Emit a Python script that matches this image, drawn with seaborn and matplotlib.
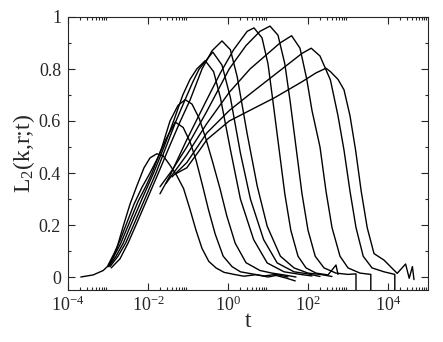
import numpy as np
import pandas as pd
import matplotlib
matplotlib.use('Agg')
import matplotlib.pyplot as plt
import matplotlib.ticker as mticker
import seaborn as sns

# curves: log10(t) and L2 values
c1_lt = [-3.68, -3.37, -3.12, -2.95, -2.80, -2.61, -2.45, -2.28, -2.10, -1.95, -1.78, -1.62, -1.45, -1.28, -1.11, -0.95, -0.80, -0.65, -0.48, -0.30, -0.10, 0.15, 0.4, 0.7, 1.0, 1.2, 1.45, 1.68]
c1_L = [0.0, 0.008, 0.025, 0.05, 0.10, 0.20, 0.28, 0.35, 0.42, 0.458, 0.474, 0.466, 0.43, 0.39, 0.34, 0.26, 0.18, 0.11, 0.06, 0.035, 0.018, 0.01, 0.003, 0.009, 0.0, 0.006, -0.004, -0.015]

c2_lt = [-3.0, -2.85, -2.70, -2.55, -2.35, -2.15, -1.95, -1.75, -1.55, -1.32, -1.12, -0.95, -0.80, -0.65, -0.49, -0.32, -0.12, 0.1, 0.31, 0.6, 0.9, 1.2, 1.5]
c2_L = [0.045, 0.09, 0.14, 0.20, 0.28, 0.345, 0.40, 0.46, 0.53, 0.596, 0.575, 0.52, 0.45, 0.36, 0.26, 0.165, 0.08, 0.04, 0.02, 0.012, 0.004, 0.01, 0.0]

c3_lt = [-3.0, -2.85, -2.68, -2.49, -2.25, -2.05, -1.90, -1.65, -1.45, -1.25, -1.07, -0.90, -0.72, -0.55, -0.38, -0.20, -0.03, 0.18, 0.45, 0.8, 1.1, 1.4, 1.7]
c3_L = [0.04, 0.08, 0.13, 0.20, 0.29, 0.35, 0.40, 0.50, 0.60, 0.66, 0.682, 0.665, 0.61, 0.53, 0.44, 0.34, 0.235, 0.13, 0.055, 0.025, 0.015, 0.008, 0.0]

c4_lt = [-2.98, -2.80, -2.62, -2.43, -2.15, -1.86, -1.60, -1.36, -1.13, -0.95, -0.78, -0.57, -0.36, -0.19, 0.06, 0.31, 0.64, 0.98, 1.40, 1.81, 2.1]
c4_L = [0.04, 0.08, 0.13, 0.20, 0.30, 0.40, 0.50, 0.60, 0.70, 0.76, 0.80, 0.832, 0.79, 0.69, 0.49, 0.30, 0.144, 0.054, 0.02, 0.01, 0.004]

c5_lt = [-2.95, -2.75, -2.56, -2.36, -2.08, -1.80, -1.55, -1.30, -1.05, -0.88, -0.72, -0.38, -0.15, 0.06, 0.31, 0.56, 0.89, 1.23, 1.65, 2.0, 2.3]
c5_L = [0.04, 0.08, 0.13, 0.20, 0.30, 0.40, 0.50, 0.60, 0.69, 0.75, 0.80, 0.865, 0.815, 0.69, 0.477, 0.30, 0.144, 0.054, 0.02, 0.012, 0.002]

c6_lt = [-2.92, -2.70, -2.50, -2.30, -2.02, -1.74, -1.47, -1.19, -0.95, -0.80, -0.65, -0.40, -0.15, 0.06, 0.23, 0.48, 0.73, 0.98, 1.31, 1.65, 2.0, 2.3, 2.6]
c6_L = [0.035, 0.07, 0.13, 0.20, 0.30, 0.40, 0.50, 0.60, 0.68, 0.74, 0.80, 0.87, 0.908, 0.874, 0.77, 0.55, 0.35, 0.195, 0.08, 0.035, 0.015, 0.01, 0.002]

c7_lt = [-1.70, -1.45, -1.03, -0.53, -0.19, 0.14, 0.48, 0.65, 0.85, 1.00, 1.12, 1.27, 1.42, 1.57, 1.75, 1.95, 2.2, 2.5, 2.7, 2.75]
c7_L = [0.32, 0.39, 0.528, 0.682, 0.785, 0.874, 0.945, 0.958, 0.92, 0.82, 0.68, 0.50, 0.32, 0.18, 0.08, 0.035, 0.015, 0.008, 0.046, 0.01]

c8_lt = [-1.70, -1.40, -1.03, -0.53, 0.03, 0.45, 0.80, 1.05, 1.25, 1.42, 1.55, 1.70, 1.85, 2.0, 2.18, 2.4, 2.7, 3.0, 3.2, 3.2]
c8_L = [0.347, 0.41, 0.50, 0.637, 0.80, 0.89, 0.945, 0.965, 0.93, 0.82, 0.68, 0.50, 0.32, 0.18, 0.08, 0.035, 0.015, 0.01, 0.012, -0.2]

c9_lt = [-1.55, -1.03, -0.53, 0.03, 0.55, 1.0, 1.30, 1.59, 1.80, 1.97, 2.10, 2.30, 2.45, 2.60, 2.80, 3.0, 3.3, 3.57, 3.57]
c9_L = [0.36, 0.47, 0.59, 0.71, 0.80, 0.86, 0.90, 0.928, 0.88, 0.76, 0.64, 0.50, 0.33, 0.19, 0.08, 0.035, 0.015, 0.01, -0.2]

c10_lt = [-1.40, -1.03, -0.53, 0.03, 0.60, 1.10, 1.60, 1.85, 2.08, 2.30, 2.56, 2.75, 2.90, 3.05, 3.20, 3.38, 3.6, 3.9, 4.17, 4.17]
c10_L = [0.385, 0.44, 0.554, 0.64, 0.71, 0.77, 0.83, 0.86, 0.88, 0.85, 0.758, 0.62, 0.488, 0.33, 0.19, 0.08, 0.035, 0.02, 0.01, -0.2]

c11_lt = [-1.32, -1.03, -0.70, -0.53, 0.03, 0.60, 1.17, 1.84, 2.20, 2.45, 2.56, 2.75, 2.90, 3.05, 3.19, 3.33, 3.48, 3.65, 3.90, 4.23, 4.44, 4.53, 4.61, 4.65]
c11_L = [0.396, 0.42, 0.49, 0.528, 0.60, 0.645, 0.69, 0.75, 0.785, 0.803, 0.79, 0.76, 0.72, 0.62, 0.488, 0.33, 0.19, 0.09, 0.065, 0.014, 0.05, -0.005, 0.04, -0.01]

curves = [(c1_lt, c1_L), (c2_lt, c2_L), (c3_lt, c3_L), (c4_lt, c4_L), (c5_lt, c5_L), (c6_lt, c6_L),
          (c7_lt, c7_L), (c8_lt, c8_L), (c9_lt, c9_L), (c10_lt, c10_L), (c11_lt, c11_L)]

rows = []
for i, (lt, L) in enumerate(curves):
    for k, (a, b) in enumerate(zip(lt, L)):
        rows.append({'curve': i, 'order': k, 't': 10.0 ** a, 'L': b})
df = pd.DataFrame(rows)

sns.set_style('ticks')
plt.rcParams['font.family'] = ['Liberation Serif', 'DejaVu Serif']
plt.rcParams['mathtext.fontset'] = 'custom'
plt.rcParams['mathtext.rm'] = 'Liberation Serif'
plt.rcParams['mathtext.it'] = 'Liberation Serif:italic'
plt.rcParams['mathtext.default'] = 'regular'

fig = plt.figure(figsize=(4.43, 3.42), dpi=100)
ax = fig.add_axes([68 / 443, 1 - 290 / 342, 360 / 443, 273 / 342])

for i in range(len(curves)):
    sub = df[df.curve == i]
    sns.lineplot(data=sub, x='t', y='L', sort=False, estimator=None, color='black', lw=1.0, ax=ax)

ax.set_xscale('log')
ax.set_xlim(1e-4, 1e5)
ax.set_ylim(-0.05, 1.0)
ax.xaxis.set_major_locator(mticker.FixedLocator([1e-4, 1e-2, 1e0, 1e2, 1e4]))
ax.xaxis.set_major_formatter(mticker.LogFormatterMathtext())
minor = [k * 10.0 ** e for e in (-4, -2, 0, 2, 4) for k in range(2, 10)]
ax.xaxis.set_minor_locator(mticker.FixedLocator(minor))
ax.xaxis.set_minor_formatter(mticker.NullFormatter())
ax.yaxis.set_major_locator(mticker.MultipleLocator(0.2))
ax.yaxis.set_minor_locator(mticker.MultipleLocator(0.1))
ax.yaxis.set_major_formatter(mticker.FuncFormatter(lambda v, p: '0' if abs(v) < 1e-9 else ('1' if abs(v - 1) < 1e-9 else f'{v:.1f}')))
ax.tick_params(which='both', direction='in', top=True, right=True, labelsize=13, width=0.8)
ax.tick_params(axis='y', pad=5)
ax.tick_params(axis='x', pad=4)
ax.tick_params(which='major', length=5)
ax.tick_params(which='minor', length=2.5)
for s in ax.spines.values():
    s.set_linewidth(0.8)

ax.set_xlabel('t', fontsize=17, labelpad=-3)
ax.set_ylabel('L$_2$(k,r;t)', fontsize=17, labelpad=1)

fig.savefig('out.png', dpi=100)
